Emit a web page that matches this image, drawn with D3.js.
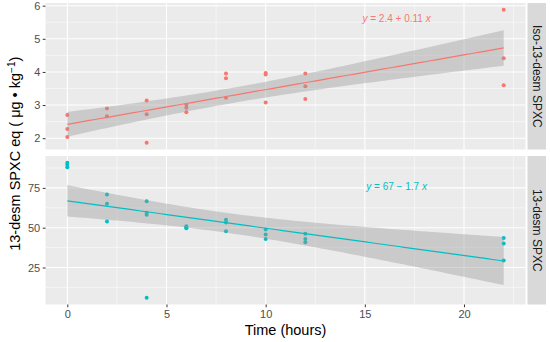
<!DOCTYPE html>
<html><head><meta charset="utf-8">
<script src="https://cdn.jsdelivr.net/npm/d3@7"></script>
<style>body{margin:0;background:#fff}svg{display:block;font-family:Arial,"Liberation Sans",sans-serif}</style>
</head><body><svg id="c" width="550" height="342"></svg>
<script>
// ---- data ----
const facets = ["Iso-13-desm SPXC", "13-desm SPXC"];
const colors = ["#F8766D", "#00BFC4"];
const isoTime  = [0,0,0, 2,2, 4,4,4, 6,6,6, 8,8,8, 10,10,10, 12,12,12, 22,22,22];
const isoValue = [2.70,2.28,2.04, 2.90,2.66, 3.14,2.72,1.86, 3.01,2.92,2.78, 3.95,3.81,3.22, 3.97,3.92,3.08, 3.95,3.57,3.18, 5.88,4.41,3.60];
const desTime  = [0,0,0, 2,2,2, 4,4,4,4, 6,6,6, 8,8,8, 10,10,10, 12,12,12, 22,22,22];
const desValue = [90.8,89.6,88.0, 70.8,65.0,53.9, 66.6,59.4,58.1,6.0, 50.9,50.2,49.6, 55.0,53.3,47.7, 48.9,45.8,42.9, 46.2,42.9,40.8, 43.5,40.0,29.4];
const xTicks = [0,5,10,15,20];
const isoTicks = [2,3,4,5,6];
const desTicks = [25,50,75];
const eqLabels = ["y = 2.4 + 0.11 x", "y = 67 \u2212 1.7 x"];
const eqAnchorY = [5.6, 76];

const series = [
  {name: facets[0], t: isoTime, v: isoValue, ticks: isoTicks, color: colors[0], eq: eqLabels[0], eqY: eqAnchorY[0]},
  {name: facets[1], t: desTime, v: desValue, ticks: desTicks, color: colors[1], eq: eqLabels[1], eqY: eqAnchorY[1]}
];

const svg = d3.select("#c");
const L = 45.5, R = 525.5;
const panels = [{top: 3, bottom: 149.5}, {top: 156, bottom: 304.5}];
const stripX = 527.5, stripW = 18.5;

const x = d3.scaleLinear().domain([-1.1, 23.1]).range([L, R]);

function fit(t, v) {
  const n = t.length, mx = d3.mean(t), my = d3.mean(v);
  let sxx = 0, sxy = 0;
  for (let i = 0; i < n; i++) { sxx += (t[i]-mx)**2; sxy += (t[i]-mx)*(v[i]-my); }
  const b = sxy/sxx, a = my - b*mx;
  let sse = 0;
  for (let i = 0; i < n; i++) sse += (v[i] - a - b*t[i])**2;
  const s = Math.sqrt(sse/(n-2));
  const tc = tQuant(n-2);
  return {a, b, se: xx => s*Math.sqrt(1/n + (xx-mx)**2/sxx), tc};
}
function tQuant(df) {
  const z = 1.959964, g1 = (z**3+z)/4, g2 = (5*z**5+16*z**3+3*z)/96, g3 = (3*z**7+19*z**5+17*z**3-15*z)/384;
  return z + g1/df + g2/df**2 + g3/df**3;
}

series.forEach((s, i) => {
  const p = panels[i];
  const f = fit(s.t, s.v);
  const x0 = d3.min(s.t), x1 = d3.max(s.t);
  const grid = d3.range(80).map(k => x0 + (x1-x0)*k/79);
  const band = grid.map(g => { const yh = f.a + f.b*g, w = f.tc*f.se(g); return {g, lo: yh-w, hi: yh+w, yh}; });
  const lo = Math.min(d3.min(s.v), d3.min(band, d => d.lo));
  const hi = Math.max(d3.max(s.v), d3.max(band, d => d.hi));
  const pad = (hi-lo)*0.05;
  const y = d3.scaleLinear().domain([lo-pad, hi+pad]).range([p.bottom, p.top]);

  const g = svg.append("g");
  g.append("rect").attr("x", L).attr("y", p.top).attr("width", R-L).attr("height", p.bottom-p.top).attr("fill", "#EBEBEB");
  const yt = s.ticks, step = yt[1]-yt[0];
  const yMinor = d3.range(yt[0]-step/2, yt[yt.length-1]+step, step).filter(v => v > y.domain()[0] && v < y.domain()[1]);
  const xMinor = [2.5, 7.5, 12.5, 17.5, 22.5];
  g.selectAll(".ym").data(yMinor).join("line").attr("x1", L).attr("x2", R).attr("y1", d => y(d)).attr("y2", d => y(d)).attr("stroke", "#fff").attr("stroke-width", 0.5);
  g.selectAll(".xm").data(xMinor).join("line").attr("y1", p.top).attr("y2", p.bottom).attr("x1", d => x(d)).attr("x2", d => x(d)).attr("stroke", "#fff").attr("stroke-width", 0.5);
  g.selectAll(".yM").data(yt).join("line").attr("x1", L).attr("x2", R).attr("y1", d => y(d)).attr("y2", d => y(d)).attr("stroke", "#fff").attr("stroke-width", 1.1);
  g.selectAll(".xM").data(xTicks).join("line").attr("y1", p.top).attr("y2", p.bottom).attr("x1", d => x(d)).attr("x2", d => x(d)).attr("stroke", "#fff").attr("stroke-width", 1.1);

  g.selectAll("circle").data(s.t.map((t, k) => [t, s.v[k]])).join("circle")
    .attr("cx", d => x(d[0])).attr("cy", d => y(d[1])).attr("r", 2).attr("fill", s.color);
  g.append("path").datum(band).attr("fill", "#999999").attr("fill-opacity", 0.4)
    .attr("d", d3.area().x(d => x(d.g)).y0(d => y(d.lo)).y1(d => y(d.hi)));
  g.append("path").datum(band).attr("fill", "none").attr("stroke", s.color).attr("stroke-width", 1.2)
    .attr("d", d3.line().x(d => x(d.g)).y(d => y(d.yh)));

  const parts = s.eq.split(" ");
  const tx = g.append("text").attr("x", x(16.6)).attr("y", y(s.eqY))
    .attr("dy", "0.35em").attr("text-anchor", "middle").attr("fill", s.color).attr("font-size", 10);
  tx.append("tspan").attr("font-style", "italic").text("y");
  tx.append("tspan").text(" " + parts.slice(1, parts.length-1).join(" ") + " ");
  tx.append("tspan").attr("font-style", "italic").text("x");

  const ax = g.append("g").attr("transform", `translate(${L},0)`)
    .call(d3.axisLeft(y).tickValues(yt).tickSize(2.75).tickPadding(2.5).tickFormat(d3.format("d")));
  ax.select(".domain").remove();
  ax.selectAll("line").attr("stroke", "#333333");
  ax.selectAll("text").attr("fill", "#4D4D4D").attr("font-size", 11).attr("font-family", "Arial, Liberation Sans, sans-serif");

  g.append("rect").attr("x", stripX).attr("y", p.top).attr("width", stripW).attr("height", p.bottom-p.top).attr("fill", "#D9D9D9");
  g.append("text").attr("transform", `translate(${stripX + stripW/2},${(p.top+p.bottom)/2}) rotate(90)`)
    .attr("text-anchor", "middle").attr("dy", "0.35em").attr("fill", "#1A1A1A").attr("font-size", 12).text(s.name);
});

const xa = svg.append("g").attr("transform", `translate(0,${panels[1].bottom})`)
  .call(d3.axisBottom(x).tickValues(xTicks).tickSize(2.75).tickPadding(2.5));
xa.select(".domain").remove();
xa.selectAll("line").attr("stroke", "#333333");
xa.selectAll("text").attr("fill", "#4D4D4D").attr("font-size", 11).attr("font-family", "Arial, Liberation Sans, sans-serif");

svg.append("text").attr("x", (L+R)/2).attr("y", 335).attr("text-anchor", "middle").attr("font-size", 14.5).attr("fill", "#000").text("Time (hours)");

const yt = svg.append("text").attr("transform", `translate(20,${(panels[0].top+panels[1].bottom)/2}) rotate(-90)`)
  .attr("text-anchor", "middle").attr("font-size", 14.5).attr("fill", "#000");
yt.append("tspan").text("13-desm SPXC eq ( \u03bcg \u2022 kg");
yt.append("tspan").attr("dy", -5.5).attr("font-size", 10).text("\u22121");
yt.append("tspan").attr("dy", 5.5).text(")");
</script></body></html>
